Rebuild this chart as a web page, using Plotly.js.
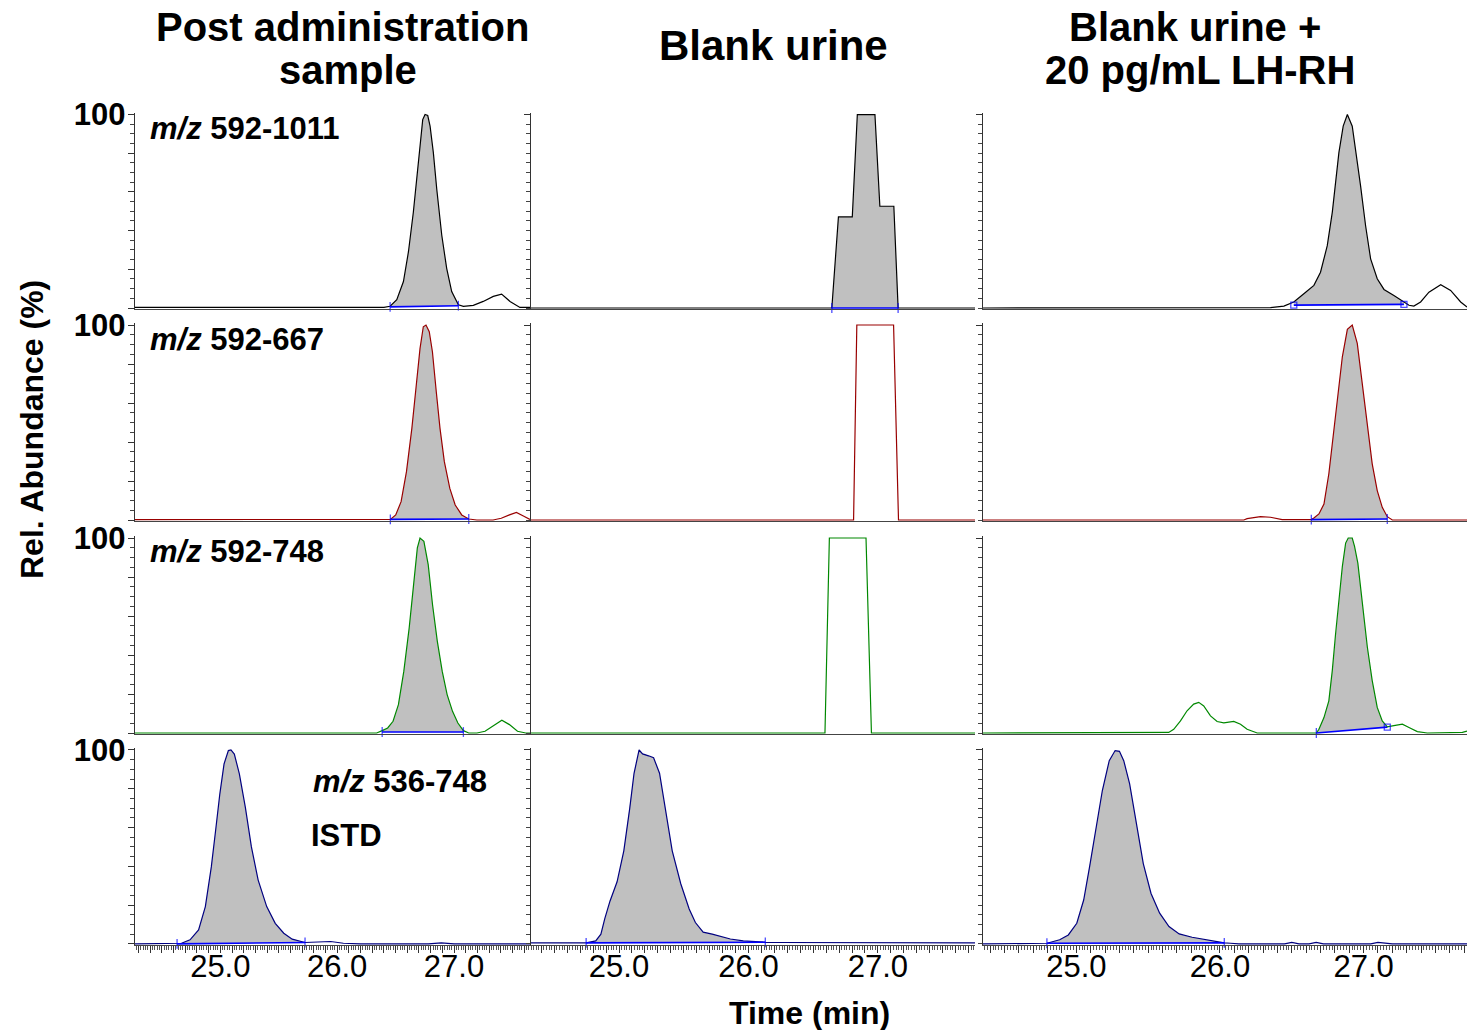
<!DOCTYPE html>
<html><head><meta charset="utf-8">
<script src="https://cdn.plot.ly/plotly-3.0.1.min.js"></script>
<style>html,body{margin:0;padding:0;background:#fff}</style>
</head><body><div id="chart" style="width:1467px;height:1030px"></div>
<script>
// ---------------- DATA ----------------
var columnTitles = [["Post administration", "sample"], ["Blank urine"], ["Blank urine +", "20 pg/mL LH-RH"]];
var traceLabels = ["592-1011", "592-667", "592-748", "536-748"];
var istdLabel = "ISTD";
var xTitle = "Time (min)";
var yTitle = "Rel. Abundance (%)";
var xTickVals = [25, 26, 27];
var xTickLabels = ["25.0", "26.0", "27.0"];
var yTopLabel = "100";
var colRanges = [[24.27, 27.65], [24.32, 27.75], [24.35, 27.72]];

// Row 1: m/z 592-1011
var r1c1_t = [24.27, 26.40, 26.453, 26.51, 26.567, 26.61, 26.652, 26.681, 26.709, 26.732, 26.752, 26.775, 26.795, 26.823, 26.852, 26.895, 26.937, 26.98, 27.037, 27.08, 27.165, 27.25, 27.336, 27.407, 27.479, 27.564, 27.65];
var r1c1_v = [0.3, 0.3, 0.9, 4.3, 13.7, 29.1, 49.6, 66.7, 85.5, 97.4, 100, 99.5, 94, 80.3, 61.5, 37.6, 20.5, 8.5, 1.7, 0.9, 1.4, 3.4, 6, 7.2, 3.4, 0.3, 0.3];
var r1c1_int = [26.453, 27.037, 0.6, 1.2];

var r1c2_t = [24.32, 26.644, 26.695, 26.802, 26.841, 26.977, 27.015, 27.123, 27.156, 27.75];
var r1c2_v = [0, 0, 47.1, 47.1, 100, 100, 52.6, 52.6, 0, 0];
var r1c2_int = [26.644, 27.156, 0, 0];

var r1c3_t = [24.35, 26.352, 26.445, 26.514, 26.584, 26.654, 26.70, 26.747, 26.782, 26.805, 26.828, 26.858, 26.887, 26.921, 26.944, 26.979, 27.014, 27.049, 27.095, 27.142, 27.211, 27.281, 27.316, 27.35, 27.397, 27.455, 27.537, 27.606, 27.676, 27.72];
var r1c3_v = [0, 0.2, 1.0, 3.1, 7.4, 11.7, 18.5, 32.2, 49.4, 66.6, 80.3, 94, 100, 94, 82, 63.1, 42.5, 25.4, 15.1, 9.6, 6.5, 3.1, 1.4, 1.0, 3.1, 8.2, 12, 9.1, 3.1, 0.5];
var r1c3_int = [26.514, 27.281, 1.5, 1.9];

// Row 2: m/z 592-667
var r2c1_t = [24.27, 26.455, 26.501, 26.547, 26.593, 26.639, 26.677, 26.709, 26.737, 26.76, 26.788, 26.815, 26.848, 26.88, 26.917, 26.964, 27.01, 27.066, 27.126, 27.196, 27.334, 27.404, 27.474, 27.534, 27.589, 27.65];
var r2c1_v = [0.2, 0.3, 2.6, 9.4, 24.8, 47, 69.2, 88, 99.1, 100, 96.6, 86.3, 65.8, 47, 29.9, 16.2, 7.7, 2.6, 0.5, 0, 0, 0.9, 2.6, 3.9, 2.2, 0.3];
var r2c1_int = [26.455, 27.126, 0.3, 0.5];

var r2c2_t = [24.32, 26.812, 26.837, 27.121, 27.159, 27.75];
var r2c2_v = [0, 0, 100, 100, 0, 0];
var r2c2_int = null;

var r2c3_t = [24.35, 26.166, 26.189, 26.282, 26.352, 26.433, 26.636, 26.654, 26.689, 26.724, 26.758, 26.789, 26.817, 26.852, 26.887, 26.921, 26.956, 26.991, 27.026, 27.06, 27.095, 27.13, 27.165, 27.2, 27.72];
var r2c3_v = [0, 0, 0.7, 1.7, 1.4, 0.2, 0.2, 1, 3.1, 8.2, 23.7, 42.5, 61.4, 83.7, 97.8, 100, 90.6, 70, 47.7, 28.8, 15.1, 6.5, 1.7, 0, 0];
var r2c3_int = [26.636, 27.165, 0.2, 0.5];

// Row 3: m/z 592-748
var r3c1_t = [24.27, 26.338, 26.385, 26.432, 26.478, 26.524, 26.57, 26.616, 26.654, 26.686, 26.709, 26.742, 26.779, 26.816, 26.857, 26.899, 26.941, 26.987, 27.033, 27.08, 27.126, 27.196, 27.265, 27.334, 27.409, 27.474, 27.543, 27.613, 27.65];
var r3c1_v = [0, 0, 1.2, 2.6, 6, 14.5, 31.6, 53.8, 76.1, 94.9, 100, 98.3, 86.3, 65.8, 47, 31.6, 19.7, 11.1, 5.1, 1.2, 0, 0, 0.9, 3.4, 6.5, 4.3, 0.9, 0, 0];
var r3c1_int = [26.385, 27.08, 0.5, 0.5];

var r3c2_t = [24.32, 26.591, 26.625, 26.908, 26.95, 27.75];
var r3c2_v = [0, 0, 100, 100, 0, 0];
var r3c2_int = null;

var r3c3_t = [24.35, 25.643, 25.678, 25.725, 25.771, 25.817, 25.852, 25.887, 25.934, 25.98, 26.027, 26.096, 26.143, 26.189, 26.259, 26.671, 26.689, 26.724, 26.758, 26.782, 26.805, 26.828, 26.852, 26.875, 26.893, 26.921, 26.937, 26.96, 26.991, 27.026, 27.06, 27.095, 27.13, 27.165, 27.211, 27.27, 27.316, 27.374, 27.444, 27.653, 27.688, 27.72];
var r3c3_v = [0, 0.3, 1.9, 6.2, 11.4, 14.8, 15.7, 13.9, 8.8, 5.9, 5.2, 5.9, 4.5, 1.9, 0, 0, 1.9, 7.9, 16.5, 32, 50.9, 68.2, 85.4, 97.4, 100, 100, 95.7, 87.1, 66.4, 44.1, 26.9, 13.1, 6.2, 3.1, 3.8, 4.5, 2.8, 0.7, 0, 0, 0.3, 1];
var r3c3_int = [26.671, 27.165, 0, 3];

// Row 4: m/z 536-748 (ISTD)
var r4c1_t = [24.27, 24.595, 24.63, 24.668, 24.741, 24.814, 24.872, 24.923, 24.96, 24.996, 25.032, 25.069, 25.091, 25.12, 25.163, 25.214, 25.266, 25.324, 25.397, 25.47, 25.543, 25.615, 25.725, 25.834, 25.944, 26.053, 26.198, 26.781, 26.891, 27.0, 27.65];
var r4c1_v = [0, 0, 0.1, 0.3, 2.1, 7.2, 19.2, 39.7, 58.6, 77.4, 92.8, 99.7, 100, 97.9, 87.7, 70.5, 50, 32.9, 19.2, 10.6, 5.5, 2.4, 0.7, 0.9, 1.2, 0.3, 0, 0, 0.5, 0, 0];
var r4c1_int = [24.63, 25.725, 0, 0.7];

var r4c2_t = [24.32, 24.72, 24.746, 24.82, 24.86, 24.89, 24.93, 24.985, 25.037, 25.083, 25.116, 25.155, 25.182, 25.228, 25.267, 25.313, 25.359, 25.411, 25.477, 25.542, 25.59, 25.65, 25.72, 25.79, 25.86, 25.96, 26.1, 26.13, 26.23, 26.5, 26.7, 27.75];
var r4c2_v = [0.5, 0.5, 0.5, 1.5, 5, 13, 22, 32, 48, 70, 88, 100, 98, 97, 96, 88, 70, 48, 31, 18, 11, 6, 5, 3.6, 2.5, 1.5, 0.8, 0.8, 0.7, 0.6, 0.5, 0.5];
var r4c2_int = [24.746, 26.13, 0.5, 0.8];

var r4c3_t = [24.35, 24.766, 24.795, 24.884, 24.944, 25.003, 25.051, 25.092, 25.134, 25.181, 25.229, 25.27, 25.3, 25.33, 25.371, 25.419, 25.466, 25.52, 25.58, 25.645, 25.716, 25.806, 25.895, 25.984, 26.03, 26.073, 26.132, 26.45, 26.5, 26.55, 26.62, 26.67, 26.72, 27.05, 27.1, 27.2, 27.72];
var r4c3_v = [0, 0, 0.3, 2.1, 4.6, 10.6, 22.6, 39.7, 58.6, 79.1, 94.5, 99.7, 99.3, 94.5, 82.5, 62, 41.4, 26, 15.8, 8.9, 5.1, 3.4, 2.1, 0.9, 0.5, 0.3, 0, 0, 0.8, 0, 0, 0.8, 0, 0, 0.8, 0, 0];
var r4c3_int = [24.795, 26.03, 0.3, 0.5];

// ---------------- STYLE ----------------
var W = 1467, H = 1030;
var ML = 135, MR = 0, MT = 113, MB = 85;
var PW = W - ML - MR, PH = H - MT - MB;
var FONT = "Liberation Sans, Arial, Helvetica, sans-serif";
var rowColors = ["#000000", "#990000", "#008800", "#000080"];
var fillGray = "#c0c0c0";
var intBlue = "#0000ff";
var colPx = [[135, 530], [531, 975], [983, 1467]];
var rowPx = [[113, 308], [325, 520], [538, 733], [750, 945]];
var YMIN = -0.6, YMAX = 100.8;

function px(x) { return (x - ML) / PW; }
function py(y) { return (MT + PH - y) / PH; }

var panels = [
  [[r1c1_t, r1c1_v, r1c1_int], [r1c2_t, r1c2_v, r1c2_int], [r1c3_t, r1c3_v, r1c3_int]],
  [[r2c1_t, r2c1_v, r2c1_int], [r2c2_t, r2c2_v, r2c2_int], [r2c3_t, r2c3_v, r2c3_int]],
  [[r3c1_t, r3c1_v, r3c1_int], [r3c2_t, r3c2_v, r3c2_int], [r3c3_t, r3c3_v, r3c3_int]],
  [[r4c1_t, r4c1_v, r4c1_int], [r4c2_t, r4c2_v, r4c2_int], [r4c3_t, r4c3_v, r4c3_int]]
];
var endSymbols = [
  [["line-ns-open", "line-ns-open"], ["line-ns-open", "line-ns-open"], ["square-open", "square-open"]],
  [["line-ns-open", "line-ns-open"], null, ["line-ns-open", "line-ns-open"]],
  [["line-ns-open", "line-ns-open"], null, ["line-ns-open", "square-open"]],
  [["line-ns-open", "line-ns-open"], ["line-ns-open", "line-ns-open"], ["line-ns-open", "line-ns-open"]]
];

var traces = [];
var layout = {
  width: W, height: H,
  margin: {l: ML, r: MR, t: MT, b: MB, pad: 0},
  paper_bgcolor: "#ffffff", plot_bgcolor: "rgba(0,0,0,0)",
  showlegend: false,
  font: {family: FONT, color: "#000000", size: 31},
  annotations: []
};

function timeTicks(range) {
  var vals = [], txt = [];
  var start = Math.ceil(range[0] * 10), end = Math.floor(range[1] * 10);
  for (var k = start; k <= end; k++) {
    var v = k / 10;
    vals.push(v);
    var idx = -1;
    for (var j = 0; j < xTickVals.length; j++) if (Math.abs(xTickVals[j] - v) < 1e-6) idx = j;
    txt.push(idx >= 0 ? xTickLabels[idx] : "");
  }
  return {vals: vals, txt: txt};
}

for (var r = 0; r < 4; r++) {
  for (var c = 0; c < 3; c++) {
    var k = r * 3 + c + 1;
    var xa = "x" + (k === 1 ? "" : k), ya = "y" + (k === 1 ? "" : k);
    var xkey = "xaxis" + (k === 1 ? "" : k), ykey = "yaxis" + (k === 1 ? "" : k);
    var p = panels[r][c];
    var t = p[0], v = p[1], integ = p[2];
    var col = rowColors[r];

    if (integ) {
      var fx = [], fy = [];
      for (var i = 0; i < t.length; i++) {
        if (t[i] >= integ[0] - 1e-9 && t[i] <= integ[1] + 1e-9) { fx.push(t[i]); fy.push(v[i]); }
      }
      fx.push(integ[1]); fy.push(integ[3]);
      fx.push(integ[0]); fy.push(integ[2]);
      traces.push({type: "scatter", mode: "lines", x: fx, y: fy, xaxis: xa, yaxis: ya,
        fill: "toself", fillcolor: fillGray, line: {width: 0, color: fillGray}, hoverinfo: "skip"});
    }
    traces.push({type: "scatter", mode: "lines", x: t, y: v, xaxis: xa, yaxis: ya,
      line: {color: col, width: 1.2}, hoverinfo: "skip"});
    if (integ) {
      var sy = endSymbols[r][c];
      traces.push({type: "scatter", mode: "lines+markers", x: [integ[0], integ[1]], y: [integ[2], integ[3]],
        xaxis: xa, yaxis: ya, line: {color: intBlue, width: 1.6},
        marker: {symbol: sy, size: [sy[0] === "square-open" ? 6 : 7, sy[1] === "square-open" ? 6 : 7], color: intBlue, line: {color: intBlue, width: 1.3}},
        cliponaxis: false, hoverinfo: "skip"});
    }

    var s = (rowPx[r][1] - rowPx[r][0]) / 100;
    var topPx = rowPx[r][0] - (YMAX - 100) * s;
    var botPx = rowPx[r][1] - YMIN * s;
    var xd = [Math.max(0, px(colPx[c][0])), Math.min(1, px(colPx[c][1]))];
    var yd = [Math.max(0, py(botPx)), Math.min(1, py(topPx))];

    var xaxis = {
      domain: xd, range: colRanges[c], anchor: ya,
      showgrid: false, zeroline: false, showline: true, linecolor: "#444444", linewidth: 1.2,
      fixedrange: true
    };
    if (r === 3) {
      var tt = timeTicks(colRanges[c]);
      xaxis.tickmode = "array"; xaxis.tickvals = tt.vals; xaxis.ticktext = tt.txt;
      xaxis.ticks = "outside"; xaxis.ticklen = 7; xaxis.tickwidth = 1; xaxis.tickcolor = "#333333";
      xaxis.showticklabels = true;
      xaxis.ticklabelstandoff = -13;
      xaxis.tickfont = {family: FONT, size: 31, color: "#000000"};
      xaxis.minor = {dtick: 0.02, tick0: 24, ticks: "outside", ticklen: 4, tickwidth: 1, tickcolor: "#555555", showgrid: false};
    } else {
      xaxis.ticks = ""; xaxis.showticklabels = false;
    }
    layout[xkey] = xaxis;

    var yaxis = {
      domain: yd, range: [YMIN, YMAX], anchor: xa,
      showgrid: false, zeroline: false, showline: true, linecolor: "#333333", linewidth: 1.2,
      tickmode: "array", tickvals: [0, 20, 40, 60, 80, 100],
      ticktext: ["", "", "", "", "", "<b>" + yTopLabel + "</b>"],
      ticks: "outside", ticklen: 6, tickwidth: 1, tickcolor: "#333333",
      minor: {dtick: 5, tick0: 0, ticks: "outside", ticklen: 4, tickwidth: 1, tickcolor: "#444444", showgrid: false},
      showticklabels: c === 0,
      ticklabelstandoff: -4,
      tickfont: {family: FONT, size: 31, color: "#000000"},
      fixedrange: true
    };
    layout[ykey] = yaxis;
  }
}

function ann(text, xPx, yPx, size, opts) {
  var a = {text: text, xref: "paper", yref: "paper", x: px(xPx), y: py(yPx),
    xanchor: "center", yanchor: "middle", showarrow: false,
    font: {family: FONT, size: size, color: "#000000"}};
  for (var key in opts) a[key] = opts[key];
  layout.annotations.push(a);
}

// column titles
ann("<b>" + columnTitles[0][0] + "</b>", 342, 27, 40, {});
ann("<b>" + columnTitles[0][1] + "</b>", 348, 70, 40, {});
ann("<b>" + columnTitles[1][0] + "</b>", 773, 45, 42, {});
ann("<b>" + columnTitles[2][0] + "</b>", 1195, 27, 40, {});
ann("<b>" + columnTitles[2][1] + "</b>", 1200, 70, 40, {});

// trace labels
var labelPos = [[148, 128], [148, 339], [148, 551], [311, 781]];
for (var q = 0; q < 4; q++) {
  ann("<b><i>m/z</i> " + traceLabels[q] + "</b>", labelPos[q][0], labelPos[q][1], 31, {xanchor: "left"});
}
ann("<b>" + istdLabel + "</b>", 309, 835, 31, {xanchor: "left"});

// axis titles
ann("<b>" + xTitle + "</b>", 809, 1013, 32, {});
ann("<b>" + yTitle + "</b>", 32, 429, 32, {textangle: -90});

Plotly.newPlot("chart", traces, layout, {staticPlot: true, displayModeBar: false});
</script></body></html>
